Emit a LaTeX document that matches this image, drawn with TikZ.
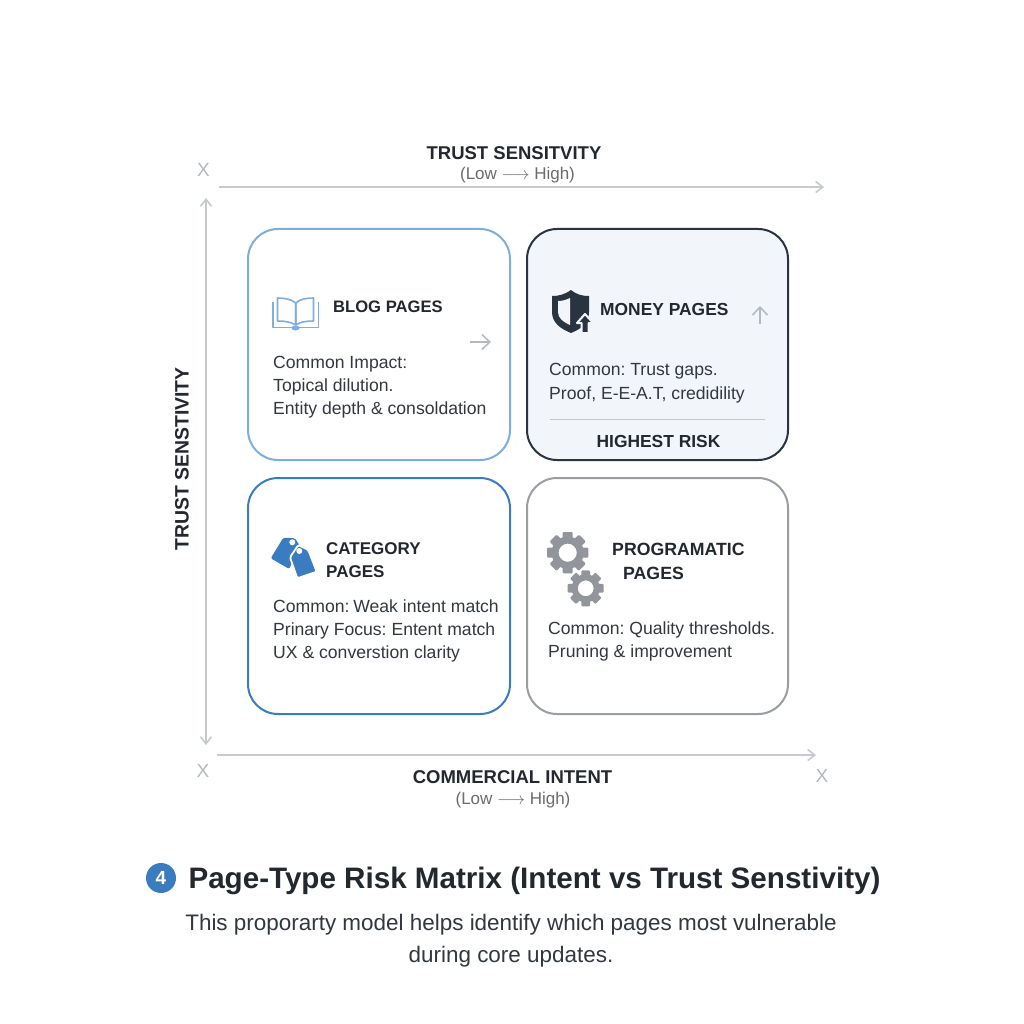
\documentclass[tikz,border=0pt]{standalone}
\usepackage{fontspec}
\setmainfont{Liberation Sans}
\usetikzlibrary{arrows.meta}
\frenchspacing
\definecolor{ink}{HTML}{23272E}
\definecolor{body}{HTML}{33383F}
\definecolor{axisc}{HTML}{C6CBD2}
\definecolor{xc}{HTML}{B4B9C0}
\definecolor{lblue}{HTML}{7FAEDB}
\definecolor{mblue}{HTML}{3B7BBF}
\definecolor{navy}{HTML}{2A3440}
\definecolor{gbox}{HTML}{9A9EA3}
\definecolor{gearc}{HTML}{92969C}
\definecolor{moneybg}{HTML}{F2F5FA}
\newcommand{\fs}[1]{\fontsize{#1}{#1}\selectfont}
\tikzset{
 x=1pt,y=-1pt,
 card/.style={draw,line width=2pt,rounded corners=30pt,inner sep=0pt,anchor=north west},
 cardhead/.style={font=\fs{17.4}\bfseries,text=ink,anchor=base west,inner sep=0pt,align=left},
 cardbody/.style={font=\fs{17.6},text=body,anchor=base west,inner sep=0pt,align=left},
 axisline/.style={draw=axisc,line width=1.6pt,-{Straight Barb[length=7pt,width=11pt]}},
 axishead/.style={font=\fs{18.5}\bfseries,text=ink,inner sep=0pt},
 axissub/.style={font=\fs{17},text=gray!85!black,inner sep=0pt},
 xmark/.style={font=\fs{19},text=xc,inner sep=0pt},
 hint/.style={draw=xc,line width=1.5pt,-{Straight Barb[length=8pt,width=15pt]}},
}
\newcommand{\gearicon}[4]{% x,y,R,colour
 \begin{scope}[shift={(#1,#2)}]
  \foreach \a in {0,45,...,315}{
   \fill[#4,rotate=\a,rounded corners=1pt] (-0.24*#3,-#3) rectangle (0.24*#3,-0.6*#3);
  }
  \fill[#4,even odd rule] (0,0) circle[radius=0.78*#3] (0,0) circle[radius=0.44*#3];
 \end{scope}}
\begin{document}
\begin{tikzpicture}
\useasboundingbox (0,0) rectangle (1024,1024);
\fill[white] (0,0) rectangle (1024,1024);

% Axes
\coordinate (ta) at (219,187); \coordinate (tb) at (824,187);
\coordinate (la) at (206,198); \coordinate (lb) at (206,745);
\coordinate (ba) at (217,755); \coordinate (bb) at (816,755);
\draw[axisline] (ta) -- (tb);
\draw[axisline,{Straight Barb[length=7pt,width=11pt]}-{Straight Barb[length=7pt,width=11pt]}] (la) -- (lb);
\draw[axisline] (ba) -- (bb);
\node[xmark] (x1) at (203.5,170) {X};
\node[xmark] (x2) at (203,771) {X};
\node[xmark] (x3) at (822,776) {X};
\node[axishead] (toph) at (514,153) {TRUST SENSITVITY};
\node[axissub] (tops) at (517.5,175) {(Low $\longrightarrow$ High)};
\node[axishead,font=\fs{19.4}\bfseries,rotate=90] (lefth) at (182,459) {TRUST SENSTIVITY};
\node[axishead] (both) at (512.5,777) {COMMERCIAL INTENT};
\node[axissub] (bots) at (513,800) {(Low $\longrightarrow$ High)};

% Cards
\node[card,draw=lblue,minimum width=262pt,minimum height=231pt] (blog) at (247,228) {};
\node[card,draw=navy,fill=moneybg,minimum width=261pt,minimum height=231pt] (money) at (526,228) {};
\node[card,draw=mblue,minimum width=262pt,minimum height=236pt] (cat) at (247,477) {};
\node[card,draw=gbox,minimum width=261pt,minimum height=236pt] (prog) at (526,477) {};

% Blog
\node[cardhead,font=\fs{16.6}\bfseries] (blogh) at (333,312.7) {BLOG PAGES};
\node[cardbody] (blog1) at (273,368) {Common Impact:};
\node[cardbody] (blog2) at (273,391) {Topical dilution.};
\node[cardbody] (blog3) at (273,414) {Entity depth \& consoldation};
\begin{scope}[draw=lblue,line width=1.6pt,line join=round]
 \draw (295.7,325) -- (295.7,303) .. controls (291,299) and (284,298) .. (277.5,298) -- (277.5,321) .. controls (285,321) and (291,322) .. (295.7,325);
 \draw (295.7,325) -- (295.7,303) .. controls (300,299) and (307,298) .. (313.5,298) -- (313.5,321) .. controls (306,321) and (300,322) .. (295.7,325);
 \draw (272.7,302) -- (272.7,327.5) -- (318.5,327.5) -- (318.5,302);
 \fill[lblue] (295.5,328) ellipse[x radius=4,y radius=2.5];
\end{scope}
\coordinate (bh1) at (470,342); \coordinate (bh2) at (491,342);
\draw[hint] (bh1) -- (bh2);

% Money
\node[cardhead] (moneyh) at (600,315) {MONEY PAGES};
\node[cardbody] (money1) at (549,375.7) {Common: Trust gaps.};
\node[cardbody] (money2) at (549,399) {Proof, E-E-A.T, credidility};
\coordinate (ml1) at (550,419); \coordinate (ml2) at (765,419);
\draw[draw=black!22,line width=1pt] (ml1) -- (ml2);
\node[cardhead,anchor=base] (moneyr) at (658.5,447.5) {HIGHEST RISK};
\fill[navy] (571,290) .. controls (564,295) and (558,296) .. (552,296) -- (552,312) .. controls (552,323) and (561,329) .. (571,333) .. controls (581,329) and (589,323) .. (589,312) -- (589,296) .. controls (583,296) and (577,295) .. (571,290) -- cycle;
\fill[moneybg] (570,298) .. controls (566,300) and (562,301) .. (558,301) -- (558,312) .. controls (558,318) and (563,322) .. (570,325) -- cycle;
\filldraw[navy,draw=moneybg,line width=2pt,line join=round] (585,314) -- (593,323) -- (588.5,323) -- (588.5,333) -- (581.5,333) -- (581.5,323) -- (577,323) -- cycle;
\coordinate (mh1) at (760,324); \coordinate (mh2) at (760,306);
\draw[hint] (mh1) -- (mh2);

% Category
\node[cardhead,font=\fs{17}\bfseries] (cath) at (326,554) {CATEGORY};
\node[cardhead,font=\fs{17}\bfseries] (cath2) at (326,577.7) {PAGES};
\node[cardbody] (cat1) at (273,612) {Common:\hspace{0.22em}Weak intent match};
\node[cardbody] (cat2) at (273,635) {Prinary Focus: Entent match};
\node[cardbody] (cat3) at (273,658) {UX \& converstion clarity};
\fill[mblue,rounded corners=1.5pt] (270.7,558.3) -- (283.3,537.7) -- (295,538.3) -- (299.3,545) -- (289.3,569) -- cycle;
\filldraw[mblue,draw=white,line width=1.8pt,rounded corners=1.5pt] (298.3,545) -- (308.3,550) -- (316.7,571.7) -- (297.3,578.3) -- (290,557.3) -- cycle;
\fill[white] (292.3,542.3) circle[radius=3]; \fill[white] (299.3,551) circle[radius=3];

% Programmatic
\node[cardhead,font=\fs{17.7}\bfseries] (progh) at (612,555.7) {PROGRAMATIC};
\node[cardhead,font=\fs{17.7}\bfseries] (progh2) at (623,579) {PAGES};
\node[cardbody] (prog1) at (548,634) {Common: Quality thresholds.};
\node[cardbody] (prog2) at (548,657.5) {Pruning \& improvement};
\gearicon{567.7}{552.7}{20.7}{gearc}
\gearicon{585.7}{588.3}{18}{gearc}

% Caption
\node[circle,fill=mblue,minimum size=30pt,inner sep=0pt,text=white,font=\fs{19}\bfseries] (badge) at (161,878) {4};
\node[font=\fs{29.6}\bfseries,text=ink,inner sep=0pt] (title) at (534.5,881) {Page-Type Risk Matrix (Intent vs Trust Senstivity)};
\node[font=\fs{22.45},text=body,inner sep=0pt] (sub1) at (511,925) {This proporarty model helps identify which pages most vulnerable};
\node[font=\fs{22.45},text=body,inner sep=0pt] (sub2) at (511,957) {during core updates.};
\end{tikzpicture}
\end{document}
